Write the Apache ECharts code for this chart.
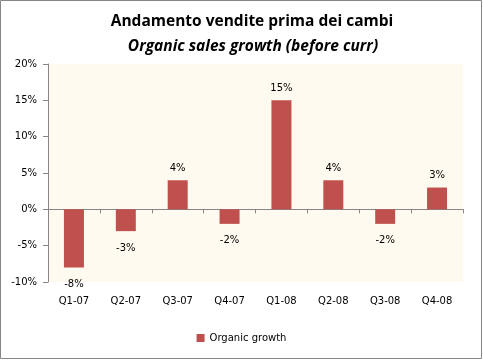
<!DOCTYPE html>
<html>
<head>
<meta charset="utf-8">
<script src="https://cdn.jsdelivr.net/npm/echarts@6/dist/echarts.min.js"></script>
<style>html,body{margin:0;padding:0;background:#fff}#c{width:483px;height:360px}</style>
</head>
<body>
<div id="c"></div>
<script>
const categories = ['Q1-07','Q2-07','Q3-07','Q4-07','Q1-08','Q2-08','Q3-08','Q4-08'];
const organicGrowth = [-8, -3, 4, -2, 15, 4, -2, 3];
const yTicks = {min: -10, max: 20, interval: 5};

const chart = echarts.init(document.getElementById('c'), null, {renderer: 'canvas'});
const labelFont = {fontFamily: 'DejaVu Sans', fontSize: 10, color: '#000'};
chart.setOption({
  animation: false,
  backgroundColor: '#fff',
  title: [{
    text: 'Andamento vendite prima dei cambi',
    left: 247, top: 9, textAlign: 'center',
    textStyle: {fontFamily: 'Open Sans', fontWeight: 'bold', fontSize: 15.5, color: '#000'}
  }, {
    text: 'Organic sales growth (before curr)',
    left: 248, top: 34, textAlign: 'center',
    textStyle: {fontFamily: 'Open Sans', fontWeight: 'bold', fontStyle: 'italic', fontSize: 15.5, color: '#000'}
  }],
  graphic: [{
    type: 'rect', shape: {x: 0.5, y: 0.5, width: 481, height: 358},
    style: {fill: 'none', stroke: '#868686', lineWidth: 1}, silent: true, z: 100
  }],
  grid: {left: 48, right: 20, top: 64, bottom: 78, show: true, backgroundColor: '#FFFAEF', borderWidth: 0},
  legend: {
    data: ['Organic growth'], bottom: 12, left: 'center',
    itemWidth: 8, itemHeight: 8, icon: 'rect',
    textStyle: {fontFamily: 'DejaVu Sans', fontSize: 10, color: '#000'}
  },
  xAxis: [{
    type: 'category', data: categories,
    axisLine: {onZero: true, lineStyle: {color: '#868686'}},
    axisTick: {show: true, length: 4, lineStyle: {color: '#868686'}},
    axisLabel: {show: false},
    position: 'bottom'
  }, {
    type: 'category', data: categories,
    axisLine: {show: false, onZero: false},
    axisTick: {show: false},
    axisLabel: {...labelFont, margin: 14},
    position: 'bottom'
  }],
  yAxis: {
    type: 'value', min: yTicks.min, max: yTicks.max, interval: yTicks.interval,
    axisLine: {show: true, lineStyle: {color: '#868686'}},
    axisTick: {show: true, length: 5, lineStyle: {color: '#868686'}},
    splitLine: {show: false},
    axisLabel: {...labelFont, formatter: v => v + '%', margin: 11}
  },
  series: [{
    name: 'Organic growth', type: 'bar', xAxisIndex: 0,
    barWidth: 20,
    itemStyle: {color: '#C0504D'},
    data: organicGrowth.map(v => ({
      value: v,
      label: {show: true, position: v < 0 ? 'bottom' : 'top', distance: v < 0 ? 12 : 7, formatter: '{c}%', ...labelFont}
    }))
  }]
});
</script>
</body>
</html>
